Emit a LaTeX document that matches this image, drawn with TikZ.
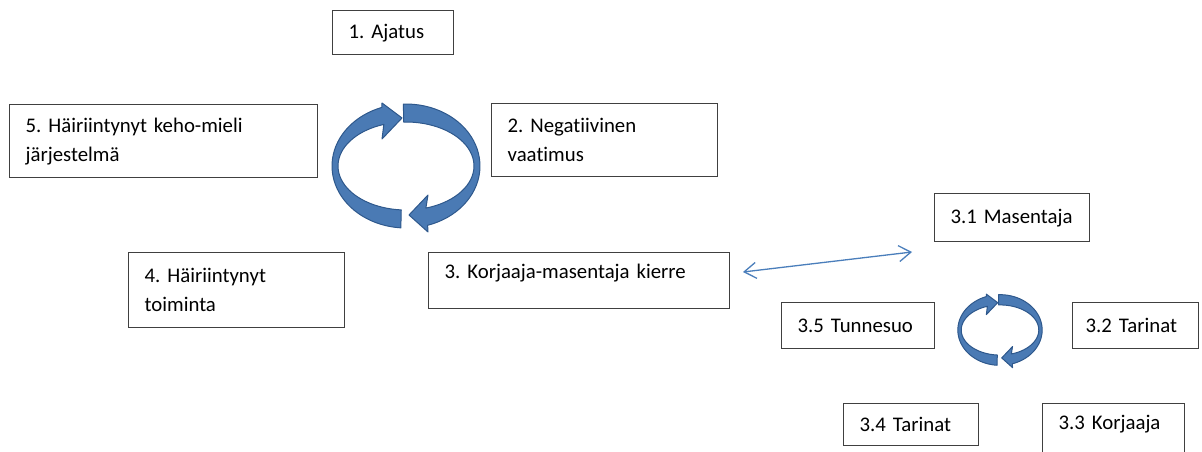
\documentclass[tikz,border=0pt]{standalone}
\usepackage{fontspec}
\setmainfont{Carlito}[Ligatures={NoCommon,NoContextual}]
\usepackage{tikz}
\usetikzlibrary{arrows.meta}
\frenchspacing

\definecolor{boxgray}{RGB}{64,64,64}
\definecolor{cycfill}{RGB}{74,122,180}
\definecolor{cycedge}{RGB}{46,88,140}
\definecolor{linkblue}{RGB}{74,126,187}

\begin{document}
\begin{tikzpicture}[x=1pt,y=-1pt,
  box/.style={draw=boxgray, line width=1.3, fill=white, anchor=north west, align=left,
    inner xsep=16, inner ysep=0, font=\fontsize{20.8}{29}\selectfont},
  cyc/.style={fill=cycfill, draw=cycedge, line width=1, line join=round},
  link/.style={draw=linkblue, line width=1.3, {Straight Barb[length=12pt,width=16pt]}-{Straight Barb[length=12pt,width=16pt]}}]
  \useasboundingbox (0,0) rectangle (1202,452);
  \clip (0,0) rectangle (1202,452);
  \node[box, text width=89, minimum height=44] (ajatus) at (332,10) {1. Ajatus};
  \node[box, text width=276, minimum height=73] (jarjestelma) at (9,104) {5. Häiriintynyt keho-mieli\\järjestelmä};
  \node[box, text width=194, minimum height=73] (vaatimus) at (491,103) {2. Negatiivinen\\vaatimus};
  \node[box, text width=184, minimum height=75] (toiminta) at (128,252) {4. Häiriintynyt\\toiminta};
  \node[box, text width=269, minimum height=56, text height=14, text depth=18] (kierre) at (428,252) {3. Korjaaja-masentaja kierre};
  \node[box, text width=123, minimum height=48] (masentaja) at (934,193) {3.1 Masentaja};
  \node[box, text width=121, minimum height=46] (tunnesuo) at (781,302) {3.5 Tunnesuo};
  \node[box, text width=100, minimum height=46, inner xsep=13] (tarinat) at (1072,302) {3.2 Tarinat};
  \node[box, text width=103, minimum height=42] (tarinat4) at (843,403) {3.4 Tarinat};
  \node[box, text width=110, minimum height=60, text height=14, text depth=22] (korjaaja) at (1042,403) {3.3 Korjaaja};
  \foreach \cx/\cy/\s in {406/166/1, 1000/330/0.57} {
    \begin{scope}[shift={(\cx,\cy)}, scale=\s]
      \draw[cyc] plot[domain=94:251, samples=40] ({74*cos(\x)},{62*sin(\x)})
        -- (-24,-63) -- (-4,-48) -- (-24,-27)
        -- plot[domain=251:94, samples=40] ({68*cos(\x)},{44*sin(\x)}) -- cycle;
      \draw[cyc] plot[domain=268:433, samples=40] ({74*cos(\x)},{62*sin(\x)})
        -- (22,66) -- (3,49) -- (22,29)
        -- plot[domain=433:268, samples=40] ({68*cos(\x)},{44*sin(\x)}) -- cycle;
    \end{scope}
  }
  \coordinate (kL) at (743,272);
  \coordinate (kR) at (912,252);
  \draw[link] (kL) -- (kR);
\end{tikzpicture}
\end{document}
